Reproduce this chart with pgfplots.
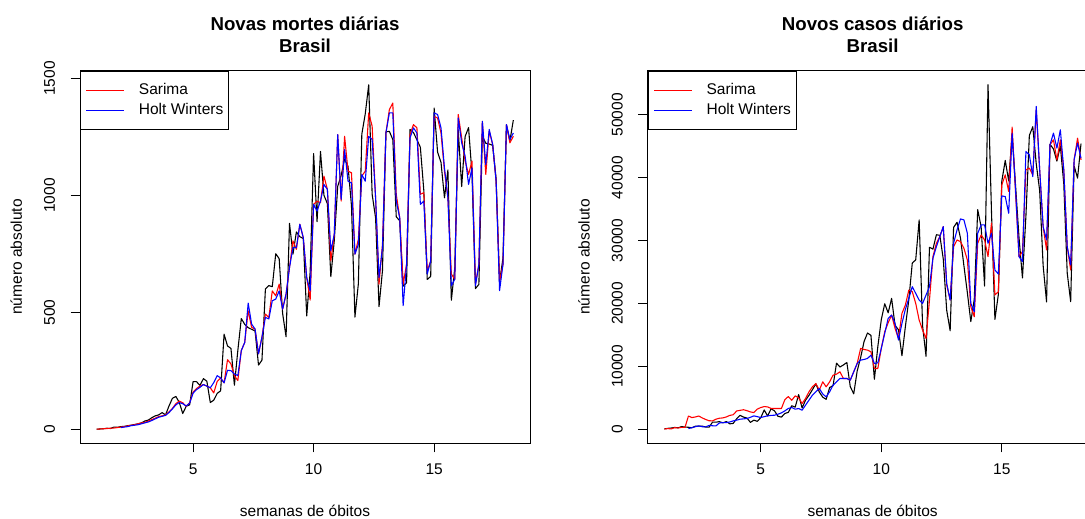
\documentclass[border=0pt]{standalone}
\usepackage{fontspec}
\setmainfont{Liberation Sans}
\usepackage{pgfplots}
\pgfplotsset{compat=1.18}
\usepackage{pgfplotstable}

% novas mortes diarias (obs = observado)
\pgfplotstableread{
x obs sarima hw
1 1 1 nan
1.1429 2 2 nan
1.2857 3 3 nan
1.4286 5 4 nan
1.5714 4 5 nan
1.7143 10 6 nan
1.8571 9 8 nan
2 12 10 8
2.1429 13 12 10
2.2857 16 15 12
2.4286 18 18 16
2.5714 21 20 18
2.7143 24 24 20
2.8571 28 28 24
3 36 30 28
3.1429 40 36 32
3.2857 50 42 38
3.4286 58 48 45
3.5714 62 55 52
3.7143 72 58 56
3.8571 62 62 60
4 100 75 72
4.1429 133 90 88
4.2857 141 110 105
4.4286 115 121 115
4.5714 68 114 110
4.7143 99 99 100
4.8571 105 114 112
5 204 160 155
5.1429 204 175 170
5.2857 188 185 180
5.4286 217 192 192
5.5714 206 185 185
5.7143 115 178 178
5.8571 125 156 200
6 154 205 230
6.1429 165 220 220
6.2857 407 199 199
6.4286 357 298 253
6.5714 346 280 251
6.7143 189 230 237
6.8571 338 209 230
7 474 337 337
7.1429 449 372 372
7.2857 435 507 540
7.4286 428 436 450
7.5714 421 429 429
7.7143 275 323 323
7.8571 296 394 394
8 600 493 479
8.1429 615 479 472
8.2857 610 592 550
8.4286 751 571 557
8.5714 730 621 592
8.7143 496 514 514
8.8571 396 578 578
9 881 692 692
9.1429 749 806 777
9.2857 844 770 777
9.4286 824 877 877
9.5714 816 820 820
9.7143 485 649 649
9.8571 674 553 592
10 1179 962 962
10.1429 888 976 933
10.2857 1188 969 976
10.4286 1001 1083 1047
10.5714 965 1026 1026
10.7143 653 720 763
10.8571 807 834 834
11 1039 1260 1260
11.1429 1086 976 983
11.2857 1156 1253 1196
11.4286 1124 1104 1061
11.5714 956 1097 1054
11.7143 480 749 749
11.8571 623 813 791
12 1262 1083 1090
12.1429 1349 1104 1061
12.2857 1473 1353 1253
12.4286 1005 1296 1239
12.5714 904 990 990
12.7143 525 621 649
12.8571 679 791 777
13 1272 1267 1267
13.1429 1274 1367 1353
13.2857 1239 1395 1353
13.4286 909 1005 976
13.5714 892 905 905
13.7143 612 621 529
13.8571 627 706 706
14 1282 1260 1246
14.1429 1269 1303 1289
14.2857 1238 1289 1267
14.4286 1206 1005 962
14.5714 1022 1012 976
14.7143 641 678 664
14.8571 654 720 720
15 1374 1338 1353
15.1429 1185 1331 1346
15.2857 1141 1267 1289
15.4286 990 1104 1118
15.5714 1109 990 990
15.7143 552 664 614
15.8571 692 642 642
16 1280 1346 1331
16.1429 1038 1246 1225
16.2857 1252 1147 1168
16.4286 1290 1090 1047
16.5714 1091 1147 1118
16.7143 602 621 614
16.8571 620 706 706
17 1254 1317 1317
17.1429 1223 1090 1132
17.2857 1220 1275 1282
17.4286 1214 1218 1218
17.5714 1071 1061 1061
17.7143 631 635 593
17.8571 733 706 706
18 1300 1303 1303
18.1429 1233 1225 1239
18.2857 1322 1253 1267
}\mortes

% novos casos diarios
\pgfplotstableread{
x obs sarima hw
1 57 30 nan
1.1429 137 100 nan
1.2857 193 50 nan
1.4286 283 250 nan
1.5714 224 200 nan
1.7143 418 300 nan
1.8571 345 300 nan
2 310 2100 100
2.1429 232 1850 250
2.2857 482 1950 400
2.4286 502 2100 530
2.5714 487 1800 400
2.7143 352 1550 370
2.8571 323 1350 600
3 1138 1330 550
3.1429 1119 1600 530
3.2857 1208 1750 1000
3.4286 1012 1800 1061
3.5714 1222 1950 1061
3.7143 852 2200 1150
3.8571 926 2300 1327
4 1661 2900 1450
4.1429 2210 3000 1592
4.2857 1930 3100 1650
4.4286 1781 2950 1698
4.5714 1089 2750 1900
4.7143 1442 2650 2123
4.8571 1261 3200 2000
5 1832 3450 1858
5.1429 3058 3600 2000
5.2857 2105 3550 2123
5.4286 3257 3300 2200
5.5714 2917 3290 2229
5.7143 2055 3290 2388
5.8571 1927 3300 2600
6 2498 4700 2919
6.1429 2678 5200 3300
6.2857 3735 4600 3450
6.4286 3503 5300 3185
6.5714 5514 5000 3291
6.7143 3379 4087 3025
6.8571 4613 4883 3822
7 5385 5945 4618
7.1429 6276 6741 5414
7.2857 7218 7272 5945
7.4286 5919 6210 6476
7.5714 5097 7537 5600
7.7143 4751 6741 5149
7.8571 6633 7537 5945
8 6935 8599 7006
8.1429 10503 8758 7537
8.2857 9888 9130 8068
8.4286 10222 8068 8068
8.5714 10611 8068 8068
8.7143 6760 7803 7803
8.8571 5632 9130 9130
9 9258 10456 10456
9.1429 11385 12845 10987
9.2857 13944 12686 11093
9.4286 15305 12580 11253
9.5714 14919 12314 11783
9.7143 7938 9660 10456
9.8571 13140 9660 10563
10 17408 12845 12845
10.1429 19951 15499 15234
10.2857 18508 16932 17622
10.4286 20803 18153 18153
10.5714 16508 16030 16826
10.7143 15813 14437 14172
10.8571 11687 18418 16826
11 16324 19745 19055
11.1429 20599 22134 20807
11.2857 26417 21869 22665
11.4286 26928 20011 21603
11.5714 33274 17357 20541
11.7143 16409 15764 20011
11.8571 11598 14437 21338
12 28936 20541 22665
12.1429 28633 27442 27176
12.2857 30925 29565 29034
12.4286 30830 30626 30626
12.5714 27075 32219 32219
12.7143 18912 22930 23195
12.8571 15654 20541 20541
13 32091 29034 29565
13.1429 32913 30096 31688
13.2857 30412 29830 33439
13.4286 25982 28769 33280
13.5714 21704 26911 31157
13.7143 17110 19480 20011
13.8571 20647 17887 18684
14 34918 29565 31157
14.1429 32188 30892 32484
14.2857 22765 30096 32484
14.4286 54771 27442 29565
14.5714 34666 32749 31157
14.7143 17459 21338 25318
14.8571 21432 21869 24681
15 39436 38854 37102
15.1429 42725 40446 36996
15.2857 39483 37792 34342
15.4286 46860 48036 47081
15.5714 38693 37527 38057
15.7143 30476 27442 27442
15.8571 24052 28238 26645
16 33846 41242 44161
16.1429 46712 41507 43631
16.2857 48105 40446 40180
16.4286 42223 50796 51327
16.5714 37923 41242 41242
16.7143 26051 32219 32219
16.8571 20229 28503 30096
17 45305 45223 45223
17.1429 44571 46019 47081
17.2857 42619 42834 44692
17.4286 45048 46019 47611
17.5714 39023 41242 41242
17.7143 24831 29034 29034
17.8571 20286 25318 26114
18 41857 42834 42834
18.1429 39924 46284 45488
18.2857 45403 42834 43099
}\casos

\newcommand{\basefont}{\fontsize{9.3}{11}\selectfont}
\newcommand{\titlefont}{\fontsize{11.2}{13}\selectfont\bfseries}

\pgfplotsset{
  painel/.style={
    scale only axis,
    width=270pt, height=223.2pt,
    anchor=south west,
    clip=false,
    xmin=0.3086, xmax=18.9771,
    xtick={5,10,15},
    axis line style={black, line width=0.6pt},
    tick style={black, line width=0.6pt},
    tick align=outside,
    major tick length=5.6pt,
    xtick pos=bottom, ytick pos=left,
    tick label style={font=\basefont},
    /pgf/number format/assume math mode=true,
    /pgf/number format/1000 sep={},
    scaled ticks=false,
    xticklabel style={anchor=north, inner sep=0pt, yshift=-6.7pt},
    yticklabel style={xshift=-9.4pt, rotate=90, anchor=base, inner sep=0pt},
    legend cell align=left,
    legend style={at={(0,1)}, anchor=north west, draw=black, line width=0.6pt,
      fill=white, inner xsep=3.2pt, inner ysep=5.4pt, row sep=0pt,
      font=\basefont, nodes={inner sep=0pt, minimum height=12pt},
      /tikz/every odd column/.append style={column sep=8.6pt}},
  },
  serie/.style={line width=0.65pt, line join=round,
    legend image code/.code={
      \path (0pt,0pt) -- (5.2pt,0pt);
      \draw[##1] (5.2pt,0pt) -- (22.6pt,0pt);
    }},
}

\begin{document}
\begin{tikzpicture}
  \begin{axis}[painel, at={(48pt,45pt)},
      ymin=-58, ymax=1532, ytick={0,500,1000,1500}]
    \addplot[serie, black, forget plot] table[x=x, y=obs] {\mortes};
    \addplot[serie, red] table[x=x, y=sarima] {\mortes};
    \addlegendentry{Sarima}
    \addplot[serie, blue] table[x=x, y=hw] {\mortes};
    \addlegendentry{Holt Winters}
    \node[anchor=base, font=\titlefont] at ([yshift=24.5pt]rel axis cs:0.5,1) {Novas mortes diárias};
    \node[anchor=base, font=\titlefont] at ([yshift=11pt]rel axis cs:0.5,1) {Brasil};
    \node[anchor=base, font=\basefont] at ([yshift=-44pt]rel axis cs:0.5,0) {semanas de óbitos};
    \node[rotate=90, anchor=base, font=\basefont] at ([xshift=-34.8pt]rel axis cs:0,0.5) {número absoluto};
  \end{axis}

  \begin{axis}[painel, at={(388.6pt,45pt)},
      ymin=-2190, ymax=56960, ytick={0,10000,20000,30000,40000,50000}]
    \addplot[serie, black, forget plot] table[x=x, y=obs] {\casos};
    \addplot[serie, red] table[x=x, y=sarima] {\casos};
    \addlegendentry{Sarima}
    \addplot[serie, blue] table[x=x, y=hw] {\casos};
    \addlegendentry{Holt Winters}
    \node[anchor=base, font=\titlefont] at ([yshift=24.5pt]rel axis cs:0.5,1) {Novos casos diários};
    \node[anchor=base, font=\titlefont] at ([yshift=11pt]rel axis cs:0.5,1) {Brasil};
    \node[anchor=base, font=\basefont] at ([yshift=-44pt]rel axis cs:0.5,0) {semanas de óbitos};
    \node[rotate=90, anchor=base, font=\basefont] at ([xshift=-34.8pt]rel axis cs:0,0.5) {número absoluto};
  \end{axis}

  \pgfresetboundingbox
  \path[use as bounding box] (0pt,0pt) rectangle (651pt,310.8pt);
\end{tikzpicture}
\end{document}
